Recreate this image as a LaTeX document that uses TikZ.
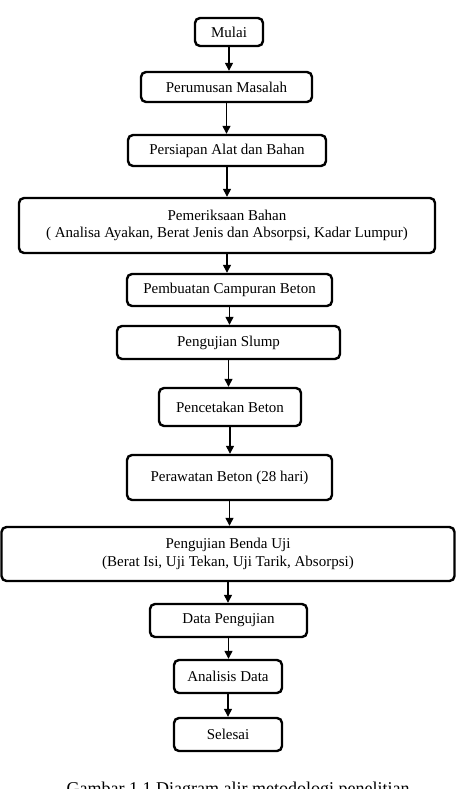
\documentclass[tikz,border=0pt]{standalone}
\usepackage{fontspec}
\setmainfont{Liberation Serif}
\usetikzlibrary{arrows.meta}

\tikzset{
  proses/.style={draw, line width=2.4pt, rounded corners=5pt, align=center,
    inner sep=0pt, font=\fontsize{15}{17.5}\selectfont},
  panah/.style={line width=1.3pt, -{Triangle[length=8pt,width=8pt]}}
}

\begin{document}
\begin{tikzpicture}[x=1pt,y=-1pt]
\clip (0,0) rectangle (457,789);
\fill[white] (0,0) rectangle (457,789);

% kotak proses
\node[proses, minimum width=68pt, minimum height=28pt] (mulai) at (229,32) {Mulai};
\node[proses, minimum width=171pt, minimum height=30pt] (rumusan) at (226.5,87) {Perumusan Masalah};
\node[proses, minimum width=198pt, minimum height=31pt] (persiapan) at (227,150.5) {Persiapan Alat dan Bahan};
\node[proses, minimum width=416pt, minimum height=55pt] (periksa) at (227,225.5) {Pemeriksaan Bahan\\( Analisa Ayakan, Berat Jenis dan Absorpsi, Kadar Lumpur)};
\node[proses, minimum width=205pt, minimum height=32pt] (campuran) at (229.5,290) {Pembuatan Campuran Beton};
\node[proses, minimum width=223pt, minimum height=33pt] (slump) at (228.5,342.5) {Pengujian Slump};
\node[proses, minimum width=142pt, minimum height=38pt] (cetak) at (230,407) {Pencetakan Beton};
\node[proses, minimum width=205pt, minimum height=45pt] (rawat) at (229.5,477.5) {Perawatan Beton (28 hari)};
\node[proses, minimum width=453pt, minimum height=54pt] (benda) at (228,554) {Pengujian Benda Uji\\(Berat Isi, Uji Tekan, Uji Tarik, Absorpsi)};
\node[proses, minimum width=157pt, minimum height=33pt] (data) at (228.5,620.5) {Data Pengujian};
\node[proses, minimum width=108pt, minimum height=33pt] (analisis) at (228,676.5) {Analisis Data};
\node[proses, minimum width=108pt, minimum height=33pt] (selesai) at (228,734.5) {Selesai};

% judul gambar
\node[anchor=base, inner sep=0pt, font=\fontsize{18}{21}\selectfont] (judul) at (238,794) {Gambar 1.1 Diagram alir metodologi penelitian};

% panah
\draw[panah] (mulai.south) -- (mulai.south |- rumusan.north);
\draw[panah] (rumusan.south) -- (rumusan.south |- persiapan.north);
\draw[panah] (persiapan.south) -- (persiapan.south |- periksa.north);
\draw[panah] (periksa.south) -- (periksa.south |- campuran.north);
\draw[panah] (campuran.south) -- (campuran.south |- slump.north);
\draw[panah] (slump.south) -- (slump.south |- cetak.north);
\draw[panah] (cetak.south) -- (cetak.south |- rawat.north);
\draw[panah] (rawat.south) -- (rawat.south |- benda.north);
\draw[panah] (benda.south) -- (benda.south |- data.north);
\draw[panah] (data.south) -- (data.south |- analisis.north);
\draw[panah] (analisis.south) -- (analisis.south |- selesai.north);
\end{tikzpicture}
\end{document}
